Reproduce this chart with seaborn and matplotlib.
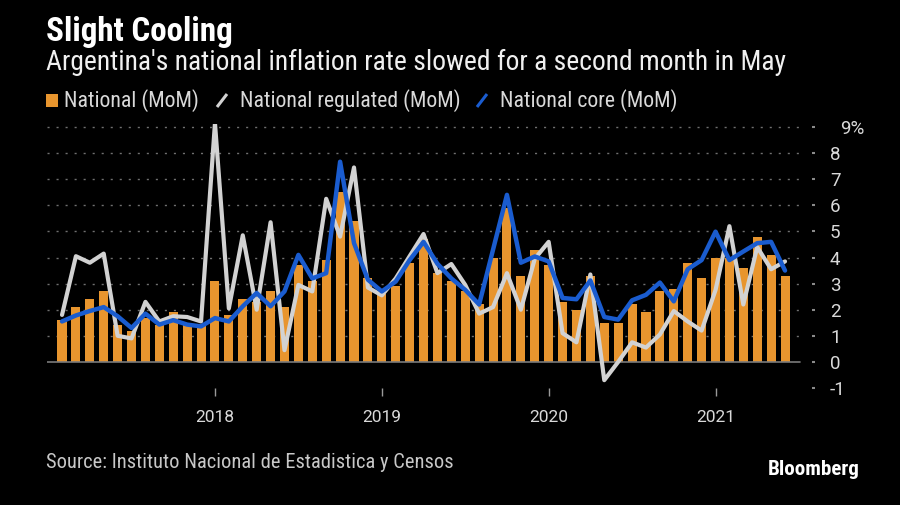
import numpy as np
import pandas as pd
import matplotlib
matplotlib.use("Agg")
import matplotlib.pyplot as plt
import seaborn as sns
from matplotlib import font_manager as fm
from matplotlib.lines import Line2D
from matplotlib.patches import Rectangle
from matplotlib.transforms import ScaledTranslation

# ---------------- data ----------------
months = pd.date_range("2017-01-01", "2021-05-01", freq="MS")
national = [1.6, 2.1, 2.4, 2.7, 1.4, 1.2, 1.7, 1.4, 1.9, 1.5, 1.4, 3.1,
            1.8, 2.4, 2.3, 2.7, 2.1, 3.7, 3.1, 3.9, 6.5, 5.4, 3.2, 2.6,
            2.9, 3.8, 4.7, 3.4, 3.1, 2.7, 2.2, 4.0, 5.9, 3.3, 4.3, 3.7,
            2.3, 2.0, 3.3, 1.5, 1.5, 2.2, 1.9, 2.7, 2.8, 3.8, 3.2, 4.0,
            4.0, 3.6, 4.8, 4.1, 3.3]
regulated = [1.8, 4.05, 3.8, 4.15, 1.0, 0.9, 2.3, 1.55, 1.75, 1.72, 1.55, 9.15,
             2.05, 4.85, 2.0, 5.35, 0.45, 2.95, 2.7, 6.25, 4.8, 7.45, 2.85, 2.55,
             3.2, 4.05, 4.9, 3.4, 3.75, 2.95, 1.85, 2.1, 3.4, 2.0, 3.95, 4.6,
             1.1, 0.75, 3.35, -0.7, 0.0, 0.75, 0.55, 1.05, 1.95, 1.55, 1.2, 2.75,
             5.2, 2.2, 4.4, 3.55, 3.85]
core = [1.55, 1.78, 1.95, 2.1, 1.75, 1.3, 1.85, 1.43, 1.6, 1.43, 1.36, 1.68,
        1.55, 2.13, 2.64, 2.13, 2.7, 4.1, 3.2, 3.4, 7.67, 4.55, 3.15, 2.7,
        3.08, 3.9, 4.6, 3.76, 3.2, 2.76, 2.2, 4.3, 6.4, 3.8, 4.04, 3.85,
        2.45, 2.4, 3.12, 1.72, 1.62, 2.36, 2.57, 3.04, 2.32, 3.55, 3.9, 4.99,
        3.9, 4.23, 4.55, 4.6, 3.5]
year_ticks = ["2018", "2019", "2020", "2021"]
y_ticks = [-1, 0, 1, 2, 3, 4, 5, 6, 7, 8, 9]
y_labels = ["-1", "0", "1", "2", "3", "4", "5", "6", "7", "8", "9%"]
legend_labels = ["National (MoM)", "National regulated (MoM)", "National core (MoM)"]
title = "Slight Cooling"
subtitle = "Argentina's national inflation rate slowed for a second month in May"
source = "Source: Instituto Nacional de Estadistica y Censos"

ORANGE = "#E8952E"
GRAY = "#D2D2D2"
BLUE = "#1A5CCF"
TXT = "#D9D9D9"

# ---------------- fonts ----------------
sns.set_theme(style="dark")
avail = {f.name for f in fm.fontManager.ttflist}
family, stretch = "Liberation Sans", "normal"
found = False
for cand in ["Liberation Sans Narrow", "Roboto Condensed", "Open Sans Condensed",
             "Noto Sans Condensed", "DejaVu Sans Condensed"]:
    if cand in avail:
        family, stretch, found = cand, "normal", True
        break
if not found:
    for f in fm.fontManager.ttflist:
        if f.name in ("Noto Sans", "Open Sans", "Roboto", "DejaVu Sans") and str(f.stretch) in ("condensed", "semi-condensed"):
            family, stretch, found = f.name, str(f.stretch), True
            break
plt.rcParams["font.family"] = [family, "DejaVu Sans"]
plt.rcParams["font.stretch"] = stretch
TICK_FAMILY = "Roboto" if "Roboto" in avail else "DejaVu Sans"

W, H = 900, 505
fig = plt.figure(figsize=(W / 100, H / 100), dpi=100, facecolor="black")
ax_l, ax_r, ax_b, ax_t = 47, 812, 388, 124.4
ax = fig.add_axes([ax_l / W, 1 - ax_b / H, (ax_r - ax_l) / W, (ax_b - ax_t) / H])
ax.set_facecolor("black")

n = len(national)
df = pd.DataFrame({"idx": np.arange(n), "month": months, "national": national,
                   "regulated": regulated, "core": core})

grid_end = (800 - ax_l) / (ax_r - ax_l)
for v in range(1, 10):
    ax.axhline(v, xmin=0, xmax=grid_end, color="#707070", lw=1.0, ls=(0, (1.5, 5)), zorder=0)

sns.barplot(data=df, x="idx", y="national", color=ORANGE, saturation=1, width=0.65,
            edgecolor="none", ax=ax, zorder=2)
ax.axhline(0, xmin=0, xmax=grid_end, color="#7a7a7a", lw=1.2, zorder=2.5)
sns.lineplot(data=df, x="idx", y="regulated", color=GRAY, lw=3.0, ax=ax, zorder=3)
sns.lineplot(data=df, x="idx", y="core", color=BLUE, lw=3.2, ax=ax, zorder=4)
if ax.get_legend() is not None:
    ax.get_legend().remove()

ax.set_xlim(-1.08, 53.94)
ax.set_ylim(-1, 9.1)
ax.set_xlabel("")
ax.set_ylabel("")
for s in ax.spines.values():
    s.set_visible(False)
ax.grid(False)

ax.set_xticks([11, 23, 35, 47])
ax.set_xticklabels(year_ticks)
ax.tick_params(axis="x", bottom=True, length=6, width=1, color="#9a9a9a",
               pad=10, labelsize=12.5, labelcolor=TXT, direction="out")
ax.yaxis.tick_right()
ax.set_yticks(y_ticks)
ax.set_yticklabels(y_labels)
ax.tick_params(axis="y", right=True, left=False, length=2, width=1.5, color="#8a8a8a",
               pad=11, labelsize=13.5, labelcolor=TXT, direction="out")
for lab in ax.get_xticklabels() + ax.get_yticklabels():
    lab.set_fontfamily([TICK_FAMILY, "DejaVu Sans"])
    lab.set_fontstretch("normal")
for lab in ax.get_yticklabels():
    if lab.get_text().endswith("%"):
        lab.set_transform(lab.get_transform() + ScaledTranslation(10 / 100, 0, fig.dpi_scale_trans))

def fx(x):
    return x / W

def fy(y):
    return 1 - y / H

t_title = fig.text(fx(46), fy(41), title, color="white", fontsize=18, fontweight="bold", va="baseline")
t_sub = fig.text(fx(46), fy(70), subtitle, color="#F0F0F0", fontsize=16, va="baseline")
t_src = fig.text(fx(46), fy(468), source, color="#C8C8C8", fontsize=12, va="baseline")
t_bb = fig.text(fx(860), fy(475), "Bloomberg", color="white", fontsize=13, fontweight="bold",
                va="baseline", ha="right")

leg_base = fy(107)
t_l1 = fig.text(fx(64), leg_base, legend_labels[0], color=TXT, fontsize=13, va="baseline")
t_l2 = fig.text(fx(240), leg_base, legend_labels[1], color=TXT, fontsize=13, va="baseline")
t_l3 = fig.text(fx(500), leg_base, legend_labels[2], color=TXT, fontsize=13, va="baseline")
fig.add_artist(Rectangle((fx(46), fy(107)), fx(12), 13 / H, transform=fig.transFigure,
                         color=ORANGE, lw=0))
fig.add_artist(Line2D([fx(217), fx(227)], [fy(107), fy(94)], transform=fig.transFigure,
                      color=GRAY, lw=2.2, solid_capstyle="butt"))
fig.add_artist(Line2D([fx(477), fx(487)], [fy(107), fy(94)], transform=fig.transFigure,
                      color=BLUE, lw=2.2, solid_capstyle="butt"))

def fit(texts, ref, target):
    r = fig.canvas.get_renderer()
    for _ in range(3):
        w = ref.get_window_extent(renderer=r).width
        s = target / w
        for t in texts:
            t.set_fontsize(t.get_fontsize() * s)

fig.canvas.draw()
fit([t_title], t_title, 187)
fit([t_sub], t_sub, 741)
fit([t_src], t_src, 407)
fit([t_bb], t_bb, 92)
fit([t_l1, t_l2, t_l3], t_l2, 221)

fig.savefig("out.png", dpi=100, facecolor="black")
